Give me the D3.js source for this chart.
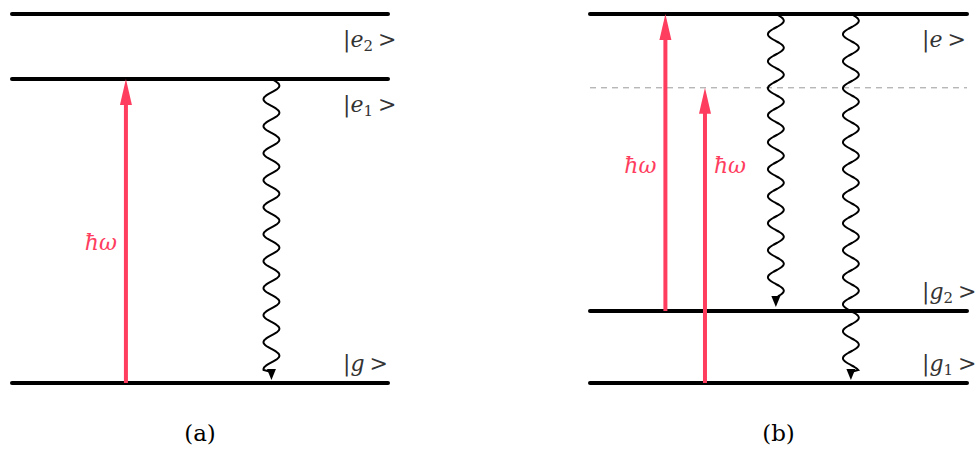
<!DOCTYPE html>
<html>
<head>
<meta charset="utf-8">
<script src="https://cdn.jsdelivr.net/npm/d3@7"></script>
<style>
  body { margin: 0; background: #fff; }
  svg { display: block; }
  text { font-family: "DejaVu Serif", serif; }
</style>
</head>
<body>
<div id="chart"></div>
<script>
const FRAME_WIDTH = 980;
const FRAME_HEIGHT = 451;

// energy levels (normalised energy, 0 = lowest level)
const LEVELS_A = [
  {name: "e", sub: "2", energy: 1.0},
  {name: "e", sub: "1", energy: 0.824},
  {name: "g", sub: "", energy: 0.0}
];
const LEVELS_B = [
  {name: "e", sub: "", energy: 1.0},
  {name: "g", sub: "2", energy: 0.195},
  {name: "g", sub: "1", energy: 0.0}
];
const VIRTUAL_B = [0.8];   // dashed virtual level

// transitions: pos = horizontal position within panel (0..1)
const ABSORB_A = [{pos: 0.303, from: 0.0, to: 0.824, label: 0.36, side: -1}];
const EMIT_A = [{pos: 0.69, from: 0.824, to: 0.008}];
const ABSORB_B = [
  {pos: 0.2, from: 0.195, to: 1.0, label: 0.57, side: -1},
  {pos: 0.305, from: 0.0, to: 0.8, label: 0.57, side: 1}
];
const EMIT_B = [
  {pos: 0.493, from: 1.0, to: 0.206},
  {pos: 0.692, from: 1.0, to: 0.008}
];
const CAPTIONS = ["(a)", "(b)"];

const RED = "#ff3d5e";

const svg = d3.select("#chart")
  .append("svg")
    .attr("width", FRAME_WIDTH)
    .attr("height", FRAME_HEIGHT);

const Y_SCALE = d3.scaleLinear().domain([0, 1]).range([383, 14]);

function drawPanel(xRange, levels, virtual, absorb, emit, caption, labelX) {
  const X = d3.scaleLinear().domain([0, 1]).range(xRange);
  const g = svg.append("g");

  // virtual levels
  g.selectAll(".virtual")
    .data(virtual)
    .enter()
    .append("line")
      .attr("x1", X(0)).attr("x2", X(1))
      .attr("y1", (d) => Y_SCALE(d)).attr("y2", (d) => Y_SCALE(d))
      .attr("stroke", "#999")
      .attr("stroke-width", 1)
      .attr("stroke-dasharray", "6,5");

  // levels
  g.selectAll(".level")
    .data(levels)
    .enter()
    .append("line")
      .attr("x1", X(0)).attr("x2", X(1))
      .attr("y1", (d) => Y_SCALE(d.energy)).attr("y2", (d) => Y_SCALE(d.energy))
      .attr("stroke", "#000")
      .attr("stroke-width", 4)
      .attr("stroke-linecap", "round");

  // level labels  |x_n >  (below upper levels, above lower levels)
  const lbl = g.selectAll(".lbl")
    .data(levels)
    .enter()
    .append("text")
      .attr("x", labelX)
      .attr("y", (d) => Y_SCALE(d.energy) + (d.energy < 0.5 ? -12 : 33))
      .attr("font-size", 22)
      .attr("fill", "#333");
  lbl.append("tspan").text("|");
  lbl.append("tspan").attr("font-style", "italic").text((d) => d.name);
  lbl.filter((d) => d.sub !== "")
    .append("tspan")
      .attr("font-size", 15)
      .attr("baseline-shift", "-4")
      .text((d) => d.sub);
  lbl.append("tspan").attr("dx", 5).text(">");

  // absorption arrows (red)
  absorb.forEach((a) => {
    const x = X(a.pos), y0 = Y_SCALE(a.from), y1 = Y_SCALE(a.to);
    g.append("line")
      .attr("x1", x).attr("x2", x)
      .attr("y1", y0).attr("y2", y1 + 20)
      .attr("stroke", RED)
      .attr("stroke-width", 4);
    g.append("path")
      .attr("d", `M${x},${y1} L${x - 6},${y1 + 26} L${x + 6},${y1 + 26} Z`)
      .attr("fill", RED);
    g.append("text")
      .attr("x", x + a.side * 25)
      .attr("y", Y_SCALE(a.label))
      .attr("text-anchor", "middle")
      .attr("font-style", "italic")
      .attr("font-size", 22)
      .attr("fill", RED)
      .text("ħω");
  });

  // emission (wavy) arrows
  const PERIOD = 27, AMP = 8;
  emit.forEach((e) => {
    const x = X(e.pos), y0 = Y_SCALE(e.from), y1 = Y_SCALE(e.to) - 10;
    const pts = d3.range(y0, y1, 1).map((y) => [x + AMP * Math.sin((y - y0) / PERIOD * 2 * Math.PI), y]);
    g.append("path")
      .attr("d", d3.line().curve(d3.curveBasis)(pts) + ` L${x},${y1 + 2}`)
      .attr("fill", "none")
      .attr("stroke", "#000")
      .attr("stroke-width", 2);
    const yt = Y_SCALE(e.to);
    g.append("path")
      .attr("d", `M${x},${yt} L${x - 4.5},${yt - 11} L${x + 4.5},${yt - 11} Z`)
      .attr("fill", "#000");
  });

  // caption
  svg.append("text")
    .attr("x", (xRange[0] + xRange[1]) / 2)
    .attr("y", 441)
    .attr("text-anchor", "middle")
    .attr("font-size", 23)
    .attr("fill", "#000")
    .text(caption);
}

drawPanel([12, 388], LEVELS_A, [], ABSORB_A, EMIT_A, CAPTIONS[0], 343);
drawPanel([590, 967], LEVELS_B, VIRTUAL_B, ABSORB_B, EMIT_B, CAPTIONS[1], 922);
</script>
</body>
</html>
